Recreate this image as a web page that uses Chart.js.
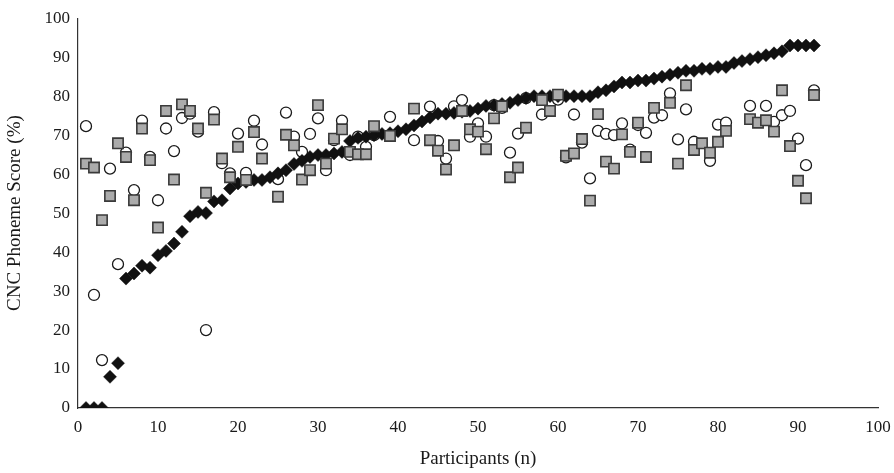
<!DOCTYPE html>
<html>
<head>
<meta charset="utf-8">
<script src="https://cdn.jsdelivr.net/npm/chart.js@4.4.1/dist/chart.umd.min.js"></script>
<style>
html,body{margin:0;padding:0;background:#fff;}
#wrap{width:894px;height:473px;position:relative;}
</style>
</head>
<body>
<div id="wrap"><canvas id="c" width="894" height="473"></canvas></div>
<script>
// Participant index 1..92
const participants = Array.from({length: 92}, (_, i) => i + 1);

// Black diamonds (sorted series)
const diamondScores = [
  0, 0, 0, 8, 11.5, 33.2, 34.5, 36.5, 36, 39.2,
  40.3, 42.2, 45.2, 49.2, 50.3, 50, 53, 53.3, 56.3, 57.6,
  58, 58.5, 58.5, 59.2, 60.2, 61, 62.6, 63.4, 64.4, 64.9,
  64.9, 65.3, 65.7, 68.5, 69.3, 69.6, 70, 70.3, 70.5, 71,
  71.5, 72.5, 73.5, 74.5, 75.5, 75.5, 75.7, 76, 76.2, 76.8,
  77.5, 77.7, 78, 78.3, 79, 79.5, 80, 80, 80, 80,
  80, 80, 80, 80, 81, 81.5, 82.5, 83.5, 83.5, 84,
  84, 84.5, 85, 85.5, 86, 86.5, 86.5, 87, 87, 87.5,
  87.5, 88.5, 89, 89.5, 90, 90.5, 91, 91.5, 93, 93,
  93, 93
];

// Open circles
const circleScores = [
  72.3, 29, 12.3, 61.4, 36.9, 65.5, 55.9, 73.7, 64.4, 53.3,
  71.7, 65.9, 74.4, 75.5, 70.9, 20, 75.9, 62.8, 60.2, 70.4,
  60.3, 73.7, 67.6, null, 58.7, 75.8, 69.6, 65.7, 70.3, 74.3,
  61, 68.7, 73.7, 64.9, 69.6, 67, 70, null, 74.7, null,
  null, 68.7, null, 77.3, 68.5, 64, 77.4, 79, 69.6, 73,
  69.6, 77.7, 77, 65.5, 70.4, 79.5, null, 75.3, null, 79.1,
  64.3, 75.3, 68.1, 58.9, 71.1, 70.3, 70, 73, 66.3, 72.6,
  70.6, 74.5, 75.1, 80.7, 68.9, 76.6, 68.3, null, 63.4, 72.7,
  73.2, null, null, 77.5, null, 77.5, 73.4, 75.1, 76.2, 69.1,
  62.3, 81.5
];

// Grey squares
const squareScores = [
  62.7, 61.7, 48.2, 54.4, 67.9, 64.4, 53.3, 71.7, 63.6, 46.3,
  76.2, 58.6, 77.9, 76.2, 71.7, 55.2, 74, 64, 59.2, 67,
  58.5, 70.8, 64, null, 54.2, 70.1, 67.4, 58.6, 61, 77.7,
  62.7, 69.1, 71.5, 65.7, 65.1, 65.1, 72.3, null, 69.8, null,
  null, 76.8, null, 68.7, 66, 61.2, 67.4, 76.2, 71.5, 70.9,
  66.4, 74.3, 77.4, 59.2, 61.7, 71.9, null, 79, 76.2, 80.4,
  64.7, 65.3, 69, 53.2, 75.4, 63.2, 61.4, 70.2, 65.7, 73.2,
  64.4, 77, null, 78.3, 62.7, 82.8, 66.2, 67.9, 65.5, 68.3,
  71.1, null, null, 74.1, 73.2, 73.8, 70.9, 81.5, 67.2, 58.3,
  53.8, 80.3
];

const xTicks = [0, 10, 20, 30, 40, 50, 60, 70, 80, 90, 100];
const yTicks = [0, 10, 20, 30, 40, 50, 60, 70, 80, 90, 100];

function toPoints(vals) {
  return participants.map((p, i) => ({x: p, y: vals[i]})).filter(d => d.y !== null);
}

const FONT = "'Liberation Serif', 'Times New Roman', serif";

new Chart(document.getElementById('c'), {
  type: 'scatter',
  data: {
    datasets: [
      {
        label: 'Squares',
        data: toPoints(squareScores),
        pointStyle: 'rect',
        pointRadius: 7.3,
        backgroundColor: '#ABABAB',
        borderColor: '#3A3A3A',
        borderWidth: 1.6
      },
      {
        label: 'Diamonds',
        data: toPoints(diamondScores),
        pointStyle: 'rectRot',
        pointRadius: 6.5,
        backgroundColor: '#111111',
        borderColor: '#111111',
        borderWidth: 0.5
      },
      {
        label: 'Circles',
        data: toPoints(circleScores),
        pointStyle: 'circle',
        pointRadius: 5.5,
        backgroundColor: '#FFFFFF',
        borderColor: '#1A1A1A',
        borderWidth: 1.3
      }
    ]
  },
  options: {
    responsive: false,
    animation: false,
    devicePixelRatio: 1,
    layout: {padding: {left: 0, right: 0, top: 18, bottom: 0}},
    plugins: {legend: {display: false}, tooltip: {enabled: false}},
    scales: {
      x: {
        type: 'linear',
        min: 0, max: 100,
        afterBuildTicks: s => { s.ticks = xTicks.map(v => ({value: v})); },
        grid: {display: false, drawTicks: false},
        border: {display: true, color: '#333333', width: 1.2},
        ticks: {color: '#1A1A1A', font: {family: FONT, size: 17}, padding: 9, maxRotation: 0},
        title: {display: true, text: 'Participants (n)', color: '#1A1A1A', font: {family: FONT, size: 19}, padding: {top: 4, bottom: 3}},
        afterFit: s => { s.height = 65; s.paddingRight = 16; s.paddingLeft = 0; }
      },
      y: {
        type: 'linear',
        min: 0, max: 100,
        afterBuildTicks: s => { s.ticks = yTicks.map(v => ({value: v})); },
        grid: {display: false, drawTicks: false},
        border: {display: true, color: '#333333', width: 1.2},
        ticks: {color: '#1A1A1A', font: {family: FONT, size: 17}, padding: 8},
        title: {display: true, text: 'CNC Phoneme Score (%)', color: '#1A1A1A', font: {family: FONT, size: 19}, padding: {top: 4, bottom: 4}},
        afterFit: s => { s.width = 78; }
      }
    }
  }
});
</script>
</body>
</html>
